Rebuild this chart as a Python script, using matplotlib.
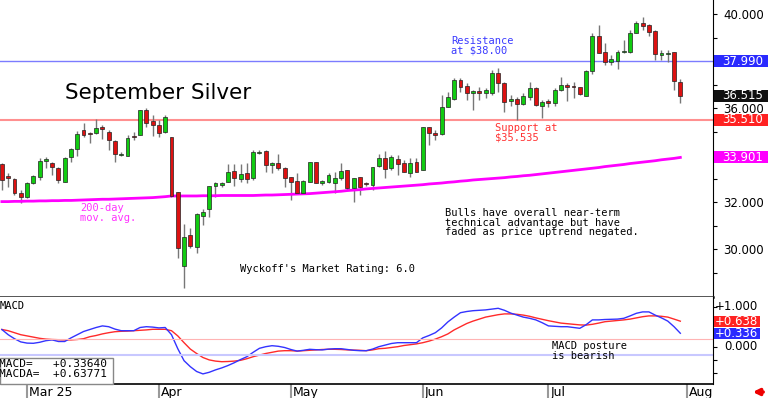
import matplotlib
matplotlib.use('Agg')
import matplotlib.pyplot as plt
from matplotlib.patches import Rectangle
from matplotlib.ticker import FixedLocator, FormatStrFormatter
from matplotlib.transforms import blended_transform_factory

# daily OHLC, Sep silver, late Feb .. Jul 31
opens = [33.62, 33.11, 32.98, 32.38, 32.21, 32.81, 33.06, 33.74, 33.66, 33.45,
         32.85, 33.92, 34.26, 35.06, 34.94, 34.94, 35.19, 34.98, 34.60, 34.00,
         33.96, 34.81, 34.85, 35.92, 35.45, 35.28, 34.98, 34.77, 32.43, 29.28,
         30.60, 30.09, 31.41, 31.70, 32.68, 32.72, 32.85, 33.32, 32.98, 33.23,
         33.02, 34.09, 34.17, 33.58, 33.66, 33.45, 33.06, 32.89, 32.38, 32.85,
         33.70, 32.83, 32.85, 32.81, 33.02, 33.36, 32.60, 33.06, 32.81, 32.72,
         33.53, 33.87, 33.45, 33.83, 33.66, 33.23, 33.70, 33.36, 35.19, 34.94,
         34.89, 36.04, 36.38, 37.19, 36.94, 36.66, 36.70, 36.64, 36.64, 37.49,
         37.06, 36.30, 36.38, 36.17, 36.47, 36.85, 36.09, 36.30, 36.21, 36.77,
         36.98, 36.94, 36.89, 36.51, 37.58, 39.06, 38.38, 37.96, 38.00, 38.38,
         38.38, 39.19, 39.62, 39.53, 39.28, 38.26, 38.30, 38.38, 37.11]
highs = [33.66, 33.23, 33.02, 32.51, 32.85, 33.15, 33.87, 33.92, 33.70, 33.49,
         33.92, 34.30, 35.02, 35.36, 34.98, 35.53, 35.28, 35.06, 34.64, 34.13,
         34.85, 34.98, 35.92, 36.00, 35.70, 35.49, 35.70, 34.77, 32.43, 31.06,
         30.89, 31.53, 31.70, 32.68, 32.85, 32.85, 33.62, 33.62, 33.62, 33.66,
         34.21, 34.21, 34.21, 33.70, 34.04, 33.49, 33.06, 33.23, 32.94, 33.70,
         33.70, 32.94, 33.23, 33.28, 33.66, 33.36, 33.02, 33.06, 32.85, 33.49,
         34.04, 34.17, 34.00, 34.00, 33.79, 33.87, 33.87, 35.19, 35.19, 35.06,
         36.55, 36.68, 37.28, 37.28, 37.06, 36.77, 36.89, 36.85, 37.62, 37.70,
         37.11, 36.55, 36.47, 36.64, 37.11, 36.89, 36.34, 36.38, 36.85, 37.32,
         37.06, 37.11, 36.89, 37.62, 39.19, 39.53, 38.77, 38.26, 38.47, 38.89,
         39.32, 39.70, 39.87, 39.57, 39.32, 38.47, 38.47, 38.38, 37.23]
lows = [32.51, 32.64, 32.30, 31.96, 32.17, 32.77, 32.94, 33.45, 33.15, 32.81,
        32.85, 33.70, 33.96, 34.77, 34.51, 34.89, 34.68, 34.21, 33.70, 33.96,
        33.96, 34.64, 34.85, 35.19, 34.81, 34.77, 34.94, 32.21, 29.62, 28.34,
        30.04, 29.83, 31.02, 31.36, 32.21, 32.64, 32.85, 32.68, 32.85, 32.81,
        32.94, 34.04, 33.28, 33.23, 33.36, 32.64, 32.09, 32.38, 32.34, 32.85,
        32.81, 32.72, 32.81, 32.38, 32.94, 32.51, 32.00, 32.30, 32.68, 32.51,
        33.49, 33.02, 33.36, 33.15, 33.28, 33.06, 33.28, 33.36, 34.43, 34.64,
        34.85, 36.04, 36.34, 36.68, 36.34, 35.92, 36.34, 36.43, 36.55, 36.68,
        35.83, 36.09, 35.49, 36.13, 36.34, 36.09, 35.58, 36.04, 36.09, 36.72,
        36.30, 36.43, 36.55, 36.51, 37.45, 38.34, 37.83, 37.83, 37.66, 38.34,
        38.34, 39.19, 39.32, 39.06, 38.04, 38.04, 37.96, 36.77, 36.21]
closes = [32.94, 33.02, 32.38, 32.21, 32.81, 33.11, 33.74, 33.83, 33.49, 32.94,
          33.87, 34.26, 34.89, 34.85, 34.89, 35.15, 35.11, 34.64, 34.04, 34.04,
          34.72, 34.77, 35.92, 35.36, 35.28, 34.94, 35.62, 32.26, 30.04, 30.51,
          30.13, 31.49, 31.58, 32.68, 32.81, 32.81, 33.28, 33.02, 33.19, 32.98,
          34.13, 34.13, 33.58, 33.66, 33.45, 33.02, 32.85, 32.38, 32.89, 33.70,
          32.81, 32.87, 33.15, 33.02, 33.32, 32.60, 33.02, 32.64, 32.77, 33.49,
          33.87, 33.41, 33.92, 33.62, 33.28, 33.66, 33.28, 35.19, 34.94, 34.85,
          36.04, 36.47, 37.19, 36.89, 36.64, 36.70, 36.66, 36.77, 37.49, 37.06,
          36.26, 36.38, 36.17, 36.51, 36.85, 36.13, 36.26, 36.21, 36.77, 36.98,
          36.89, 36.89, 36.60, 37.58, 39.06, 38.34, 37.96, 38.09, 38.38, 38.43,
          39.19, 39.62, 39.49, 39.23, 38.30, 38.34, 38.34, 37.15, 36.515]
ma200 = [32.02, 32.02, 32.03, 32.03, 32.04, 32.04, 32.05, 32.05, 32.06, 32.06,
         32.07, 32.07, 32.08, 32.09, 32.10, 32.11, 32.12, 32.12, 32.13, 32.14,
         32.15, 32.16, 32.17, 32.18, 32.19, 32.21, 32.23, 32.26, 32.26, 32.26,
         32.26, 32.26, 32.27, 32.27, 32.27, 32.28, 32.28, 32.28, 32.28, 32.28,
         32.28, 32.29, 32.30, 32.30, 32.31, 32.32, 32.33, 32.34, 32.35, 32.36,
         32.38, 32.40, 32.42, 32.44, 32.46, 32.49, 32.51, 32.53, 32.56, 32.58,
         32.60, 32.62, 32.64, 32.66, 32.68, 32.70, 32.72, 32.74, 32.77, 32.79,
         32.81, 32.84, 32.86, 32.89, 32.91, 32.94, 32.96, 32.98, 33.00, 33.02,
         33.04, 33.07, 33.09, 33.12, 33.14, 33.17, 33.20, 33.23, 33.26, 33.29,
         33.32, 33.35, 33.38, 33.41, 33.44, 33.47, 33.51, 33.54, 33.57, 33.60,
         33.64, 33.67, 33.70, 33.73, 33.76, 33.80, 33.83, 33.86, 33.90]
macd = [0.43, 0.30, 0.20, 0.12, 0.09, 0.085, 0.11, 0.15, 0.17, 0.13,
        0.13, 0.22, 0.30, 0.38, 0.43, 0.48, 0.52, 0.50, 0.44, 0.40,
        0.40, 0.40, 0.48, 0.50, 0.49, 0.47, 0.48, 0.30, -0.05, -0.35,
        -0.50, -0.62, -0.68, -0.64, -0.58, -0.53, -0.47, -0.40, -0.32, -0.25,
        -0.14, -0.04, 0.00, 0.025, 0.01, -0.02, -0.07, -0.11, -0.09, -0.065,
        -0.075, -0.08, -0.06, -0.05, -0.05, -0.07, -0.09, -0.10, -0.10, -0.06,
        0.00, 0.04, 0.08, 0.10, 0.10, 0.10, 0.10, 0.22, 0.28, 0.35,
        0.47, 0.62, 0.74, 0.85, 0.88, 0.90, 0.91, 0.92, 0.94, 0.96,
        0.91, 0.84, 0.79, 0.74, 0.71, 0.67, 0.60, 0.52, 0.51, 0.50,
        0.50, 0.48, 0.46, 0.55, 0.67, 0.67, 0.68, 0.685, 0.69, 0.71,
        0.77, 0.835, 0.87, 0.87, 0.79, 0.72, 0.64, 0.50, 0.336]
macda = [0.43, 0.40, 0.35, 0.30, 0.27, 0.24, 0.21, 0.19, 0.18, 0.175,
         0.17, 0.17, 0.18, 0.20, 0.25, 0.28, 0.32, 0.35, 0.375, 0.385,
         0.39, 0.40, 0.41, 0.42, 0.435, 0.435, 0.435, 0.40, 0.27, 0.10,
         -0.06, -0.17, -0.27, -0.33, -0.36, -0.375, -0.37, -0.36, -0.34, -0.30,
         -0.25, -0.21, -0.17, -0.14, -0.11, -0.10, -0.10, -0.11, -0.10, -0.09,
         -0.08, -0.07, -0.065, -0.065, -0.07, -0.08, -0.085, -0.09, -0.10, -0.08,
         -0.05, -0.04, -0.02, 0.00, 0.03, 0.05, 0.07, 0.10, 0.14, 0.19,
         0.25, 0.32, 0.42, 0.50, 0.58, 0.64, 0.69, 0.74, 0.77, 0.80,
         0.82, 0.82, 0.81, 0.79, 0.76, 0.72, 0.685, 0.65, 0.62, 0.59,
         0.575, 0.56, 0.545, 0.54, 0.56, 0.59, 0.625, 0.64, 0.655, 0.67,
         0.69, 0.72, 0.75, 0.77, 0.77, 0.76, 0.74, 0.69, 0.638]

resistance = 37.99
support = 35.51
macd_upper = 0.185
macd_lower = -0.21

month_idx = [4, 25, 46, 67, 87, 109]
month_lbl = ['Mar 25', 'Apr', 'May', 'Jun', 'Jul', 'Aug']

W, H = 768, 398
MONO = 'DejaVu Sans Mono'
SCALE_FS = 8.5


def fx(x):
    return x / W


def fy(y):
    return 1 - y / H


fig = plt.figure(figsize=(W / 100, H / 100), dpi=100)
ax = fig.add_axes([0, fy(297), fx(713), 297 / H])
ax2 = fig.add_axes([0, fy(384), fx(713), 87 / H], sharex=ax)

# candles
idx = list(range(len(opens)))
for i in idx:
    o, h, l, c = opens[i], highs[i], lows[i], closes[i]
    col = '#11cc11' if c >= o else '#dd1111'
    ax.vlines(i, l, h, color='#777777', lw=1, zorder=2)
    ax.bar(i, max(abs(c - o), 0.05), bottom=min(o, c), width=0.62,
           color=col, edgecolor='#222222', lw=0.5, zorder=3)

ax.plot(idx, ma200, color='#ff00ff', lw=2, zorder=2)
ax.axhline(resistance, color='#7c7cff', lw=1, zorder=1)
ax.axhline(support, color='#ff9090', lw=1.5, zorder=1)

ax.set_xlim(-0.3, 113.2)
ax.set_ylim(27.96, 40.6)
ax.yaxis.tick_right()
ax.yaxis.set_major_locator(FixedLocator([30, 32, 34, 36, 38, 40]))
ax.yaxis.set_minor_locator(FixedLocator([29, 31, 33, 35, 37, 39]))
ax.yaxis.set_major_formatter(FormatStrFormatter('%.3f'))
ax.tick_params(axis='y', which='both', direction='out', length=3, width=0.8,
               pad=4.5, labelsize=SCALE_FS)
ax.tick_params(axis='x', which='both', bottom=False, labelbottom=False)
for s in ['left', 'top']:
    ax.spines[s].set_visible(False)
ax.spines['bottom'].set_linewidth(1.8)
ax.spines['bottom'].set_color('#222222')

# value boxes on the right scale
tr = blended_transform_factory(ax.transAxes, ax.transData)
for val, txt, fc in [(resistance, '37.990', '#2a2aff'),
                     (closes[-1], '36.515', '#111111'),
                     (support, '35.510', '#ff2222'),
                     (ma200[-1], '33.901', '#ff00ff')]:
    ax.add_patch(Rectangle((1.0015, val - 0.255), 55 / 713, 0.51, transform=tr,
                           fc=fc, ec='none', clip_on=False, zorder=5))
    ax.text(1 + 9 / 713, val, txt, transform=tr, color='white', fontsize=SCALE_FS,
            va='center', ha='left', zorder=6, clip_on=False)

# MACD panel
ax2.plot(idx, macda, color='#ff2a2a', lw=1)
ax2.plot(idx, macd, color='#3333ff', lw=1)
ax2.axhline(macd_upper, color='#ffb4b4', lw=0.8)
ax2.axhline(macd_lower, color='#c8c8ff', lw=1.5)
ax2.set_ylim(-0.9325, 1.2425)
ax2.yaxis.tick_right()
ax2.yaxis.set_major_locator(FixedLocator([0, 1]))
ax2.yaxis.set_minor_locator(FixedLocator([-2 / 3, -1 / 3, 1 / 3, 2 / 3]))
ax2.tick_params(axis='y', which='both', direction='out', length=3, width=0.8,
                labelright=False)
for s in ['left', 'top']:
    ax2.spines[s].set_visible(False)
ax2.spines['bottom'].set_linewidth(1.2)
tr2 = blended_transform_factory(ax2.transAxes, ax2.transData)
for val, txt in [(1, '+1.000'), (0, '0.000')]:
    ax2.text(1 + 45 / 713, val, txt, transform=tr2, fontsize=SCALE_FS, ha='right',
             va='center', clip_on=False)
for val, txt, fc in [(macda[-1], '+0.638', '#ff2222'),
                     (macd[-1], '+0.336', '#2a2aff')]:
    ax2.add_patch(Rectangle((1.0015, val - 0.1375), 46 / 713, 0.275, transform=tr2,
                            fc=fc, ec='none', clip_on=False, zorder=5))
    ax2.text(1 + 45 / 713, val, txt, transform=tr2, color='white', fontsize=SCALE_FS,
             ha='right', va='center', zorder=6, clip_on=False)

ax2.set_xticks(month_idx)
ax2.tick_params(axis='x', direction='out', length=10, width=1.5,
                color='#999999', labelbottom=False)
for m, lbl in zip(month_idx, month_lbl):
    ax2.annotate(lbl, xy=(m, 0), xycoords=('data', 'axes fraction'),
                 xytext=(2, -2), textcoords='offset pixels', ha='left',
                 va='top', fontsize=9, annotation_clip=False)

# annotations
fig.text(fx(65), fy(99), 'September Silver', fontsize=15.5, va='baseline')
fig.text(fx(451), fy(36), 'Resistance\nat $38.00', color='#3a3aff',
         family=MONO, fontsize=7.5, va='top', linespacing=0.95)
fig.text(fx(495), fy(123), 'Support at\n$35.535', color='#ff3030',
         family=MONO, fontsize=7.5, va='top', linespacing=0.95)
fig.text(fx(80), fy(203), '200-day\nmov. avg.', color='#ff33ff',
         family=MONO, fontsize=7.5, va='top', linespacing=0.95)
fig.text(fx(445), fy(208),
         'Bulls have overall near-term\ntechnical advantage but have\n'
         'faded as price uptrend negated.',
         family=MONO, fontsize=7.5, va='top', linespacing=0.95)
fig.text(fx(240), fy(264), "Wyckoff's Market Rating: 6.0",
         family=MONO, fontsize=7.5, va='top')
fig.text(fx(552), fy(341), 'MACD posture\nis bearish',
         family=MONO, fontsize=7.5, va='top', linespacing=0.95)
fig.text(fx(0), fy(301), 'MACD', family=MONO, fontsize=7.5, va='top')

fig.patches.append(Rectangle((fx(0), fy(384)), 113 / W, 26 / H,
                             transform=fig.transFigure, fc='white',
                             ec='#888888', lw=1, zorder=1))
fig.text(fx(-1), fy(359), 'MACD=   +%.5f\nMACDA=  +%.5f' % (0.33640, 0.63771),
         family=MONO, fontsize=8, va='top', linespacing=0.95, zorder=3)

ax.annotate('', xy=(750, 6), xycoords='figure pixels',
            xytext=(766, 6), textcoords='figure pixels',
            arrowprops=dict(arrowstyle='-|>', color='#ee0000', lw=2.5,
                            mutation_scale=9))

fig.savefig('out.png', dpi=100)
